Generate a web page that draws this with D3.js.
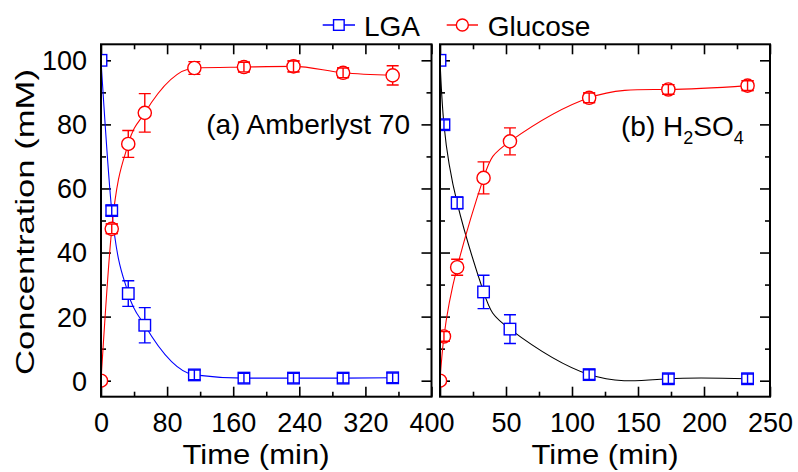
<!DOCTYPE html>
<html><head><meta charset="utf-8">
<script src="https://cdn.jsdelivr.net/npm/d3@7"></script>
<style>
body{margin:0;background:#fff}
svg{display:block}
text{font-family:"Liberation Sans",Arial,Helvetica,sans-serif;fill:#000}
</style>
</head><body>
<svg id="c" width="798" height="472"></svg>
<script>
// ---------- data ----------
const seriesNames = ["LGA", "Glucose"];

const timesA = [0, 13, 33, 53, 113, 173, 233, 293, 353];
const lgaA = [100, 53.1, 27.2, 17.3, 1.8, 0.8, 0.8, 0.8, 0.9];
const lgaErrA = [0, 1.5, 4.0, 5.5, 1.5, 1.5, 1.5, 1.5, 1.5];
const gluA = [0, 47.4, 73.9, 83.6, 97.6, 97.9, 98.1, 96.1, 95.3];
const gluErrA = [0, 1.5, 4.2, 6.0, 2.0, 1.5, 1.7, 1.5, 3.0];

const timesB = [0, 3, 13, 33, 53, 113, 173, 233];
const lgaB = [100, 79.9, 55.5, 27.7, 16.1, 1.9, 0.6, 0.6];
const lgaErrB = [0, 1.5, 1.8, 5.2, 4.5, 1.5, 1.5, 1.5];
const gluB = [0, 13.8, 35.4, 63.3, 74.7, 88.3, 90.9, 92.1];
const gluErrB = [0, 1.5, 2.5, 5.0, 4.2, 1.5, 1.5, 1.5];

const xMajorA = [0, 80, 160, 240, 320, 400];
const xMinorA = [40, 120, 200, 280, 360];
const xLabelsA = [0, 80, 160, 240, 320, 400];
const xMajorB = [0, 50, 100, 150, 200, 250];
const xMinorB = [25, 75, 125, 175, 225];
const xLabelsB = [50, 100, 150, 200, 250];
const yMajor = [0, 20, 40, 60, 80, 100];
const yMinor = [10, 30, 50, 70, 90];

// ---------- layout ----------
const svg = d3.select("#c");
const yTop = 44.3, yBot = 396.7;
const y = d3.scaleLinear().domain([-5, 105]).range([yBot, yTop]);
const BLUE = "#0000ff", RED = "#ff0000";
const FONT = 27;

const panels = [
  {key: "a", x: d3.scaleLinear().domain([0, 400]).range([101, 431.5]),
   major: xMajorA, minor: xMinorA, labels: xLabelsA, yLabels: true,
   t: timesA, lga: lgaA, lgaErr: lgaErrA, glu: gluA, gluErr: gluErrA,
   lgaLine: BLUE, curve: d3.curveMonotoneX, titleX: 256},
  {key: "b", x: d3.scaleLinear().domain([0, 250]).range([440, 770]),
   major: xMajorB, minor: xMinorB, labels: xLabelsB, yLabels: false,
   t: timesB, lga: lgaB, lgaErr: lgaErrB, glu: gluB, gluErr: gluErrB,
   lgaLine: "#000000", curve: d3.curveNatural, titleX: 605}
];

const SQ = 11.5, CR = 6.6, CAP = 6;

function styleAxis(g) {
  g.select(".domain").remove();
  g.selectAll(".tick line").attr("stroke", "#000").attr("stroke-width", 1.6);
  g.selectAll("text").attr("font-size", FONT).attr("font-family", '"Liberation Sans", Arial, sans-serif').attr("fill", "#000");
}

panels.forEach(p => {
  const x = p.x;
  const [x0, x1] = x.range();
  const g = svg.append("g");

  // clip
  const clipId = "clip-" + p.key;
  svg.append("clipPath").attr("id", clipId).append("rect")
    .attr("x", x0).attr("y", yTop).attr("width", x1 - x0).attr("height", yBot - yTop);

  // axes: bottom
  g.append("g").attr("transform", `translate(0,${yBot})`)
    .call(d3.axisBottom(x).tickValues(p.major).tickSize(-10).tickPadding(16)
      .tickFormat(d => p.labels.includes(d) ? d : ""))
    .call(styleAxis);
  g.append("g").attr("transform", `translate(0,${yBot})`)
    .call(d3.axisBottom(x).tickValues(p.minor).tickSize(-5).tickFormat(""))
    .call(styleAxis);
  // top
  g.append("g").attr("transform", `translate(0,${yTop})`)
    .call(d3.axisTop(x).tickValues(p.major).tickSize(-10).tickFormat(""))
    .call(styleAxis);
  g.append("g").attr("transform", `translate(0,${yTop})`)
    .call(d3.axisTop(x).tickValues(p.minor).tickSize(-5).tickFormat(""))
    .call(styleAxis);
  // left
  g.append("g").attr("transform", `translate(${x0},0)`)
    .call(d3.axisLeft(y).tickValues(yMajor).tickSize(-10).tickPadding(14)
      .tickFormat(d => p.yLabels ? d : ""))
    .call(styleAxis)
    .call(a => a.selectAll("text").attr("dy", "0.35em"));
  g.append("g").attr("transform", `translate(${x0},0)`)
    .call(d3.axisLeft(y).tickValues(yMinor).tickSize(-5).tickFormat(""))
    .call(styleAxis);
  // right
  g.append("g").attr("transform", `translate(${x1},0)`)
    .call(d3.axisRight(y).tickValues(yMajor).tickSize(-10).tickFormat(""))
    .call(styleAxis);
  g.append("g").attr("transform", `translate(${x1},0)`)
    .call(d3.axisRight(y).tickValues(yMinor).tickSize(-5).tickFormat(""))
    .call(styleAxis);

  // x title
  svg.append("text").attr("x", p.titleX).attr("y", 463.5)
    .attr("text-anchor", "middle").attr("font-size", 28)
    .attr("textLength", 147).attr("lengthAdjust", "spacingAndGlyphs")
    .text("Time (min)");

  const plot = svg.append("g").attr("clip-path", `url(#${clipId})`);

  const series = [
    {vals: p.lga, err: p.lgaErr, color: BLUE, line: p.lgaLine, shape: "square"},
    {vals: p.glu, err: p.gluErr, color: RED, line: RED, shape: "circle"}
  ];

  // curves
  series.forEach(s => {
    const pts = p.t.map((t, i) => [t, s.vals[i]]);
    plot.append("path").datum(pts)
      .attr("fill", "none").attr("stroke", s.line).attr("stroke-width", 1.1)
      .attr("d", d3.line().x(d => x(d[0])).y(d => y(d[1])).curve(p.curve));
  });

  function drawErr(sel, s, idx) {
    idx.forEach(i => {
      const cx = x(p.t[i]), top = y(s.vals[i] + s.err[i]), bot = y(s.vals[i] - s.err[i]);
      const eg = sel.append("g").attr("stroke", s.color).attr("stroke-width", 1.4);
      eg.append("line").attr("x1", cx).attr("x2", cx).attr("y1", top).attr("y2", bot);
      eg.append("line").attr("x1", cx - CAP).attr("x2", cx + CAP).attr("y1", top).attr("y2", top);
      eg.append("line").attr("x1", cx - CAP).attr("x2", cx + CAP).attr("y1", bot).attr("y2", bot);
    });
  }

  series.forEach(s => {
    const all = p.t.map((_, i) => i).filter(i => s.err[i] > 0);
    drawErr(plot, s, all);
    p.t.forEach((t, i) => {
      const cx = x(t), cy = y(s.vals[i]);
      if (s.shape === "square") {
        plot.append("rect").attr("x", cx - SQ / 2).attr("y", cy - SQ / 2)
          .attr("width", SQ).attr("height", SQ)
          .attr("fill", "#fff").attr("stroke", s.color).attr("stroke-width", 1.4);
      } else {
        plot.append("circle").attr("cx", cx).attr("cy", cy).attr("r", CR)
          .attr("fill", "#fff").attr("stroke", s.color).attr("stroke-width", 1.4);
      }
    });
    const small = all.filter(i => (y(0) - y(s.err[i])) <= SQ / 2 + 0.5);
    drawErr(plot, s, small);
  });

  // frame
  svg.append("rect").attr("x", x0).attr("y", yTop).attr("width", x1 - x0).attr("height", yBot - yTop)
    .attr("fill", "none").attr("stroke", "#000").attr("stroke-width", 2);
});

// y title
svg.append("text").attr("transform", "translate(34,222) rotate(-90)")
  .attr("text-anchor", "middle").attr("font-size", 26)
  .attr("textLength", 306).attr("lengthAdjust", "spacingAndGlyphs")
  .text("Concentration (mM)");

// panel annotations
svg.append("text").attr("x", 410).attr("y", 133.5).attr("text-anchor", "end")
  .attr("font-size", 28).text("(a) Amberlyst 70");
const tb = svg.append("text").attr("x", 621).attr("y", 136).attr("font-size", 28);
tb.append("tspan").text("(b) H");
tb.append("tspan").attr("font-size", 18).attr("dy", 8).text("2");
tb.append("tspan").attr("dy", -8).text("SO");
tb.append("tspan").attr("font-size", 18).attr("dy", 8).text("4");

// legend
const legend = [
  {name: seriesNames[0], color: BLUE, shape: "square", x1: 322.7, x2: 355, tx: 364},
  {name: seriesNames[1], color: RED, shape: "circle", x1: 446.7, x2: 478, tx: 487.7}
];
legend.forEach(l => {
  const ly = 25, cx = (l.x1 + l.x2) / 2;
  svg.append("line").attr("x1", l.x1).attr("x2", l.x2).attr("y1", ly).attr("y2", ly)
    .attr("stroke", l.color).attr("stroke-width", 1.4);
  if (l.shape === "square") {
    svg.append("rect").attr("x", cx - 5.3).attr("y", ly - 5.3).attr("width", 10.6).attr("height", 10.6)
      .attr("fill", "#fff").attr("stroke", l.color).attr("stroke-width", 1.4);
  } else {
    svg.append("circle").attr("cx", cx).attr("cy", ly).attr("r", 6)
      .attr("fill", "#fff").attr("stroke", l.color).attr("stroke-width", 1.4);
  }
  svg.append("text").attr("x", l.tx).attr("y", 35.7).attr("font-size", 28).text(l.name);
});
</script>
</body></html>
